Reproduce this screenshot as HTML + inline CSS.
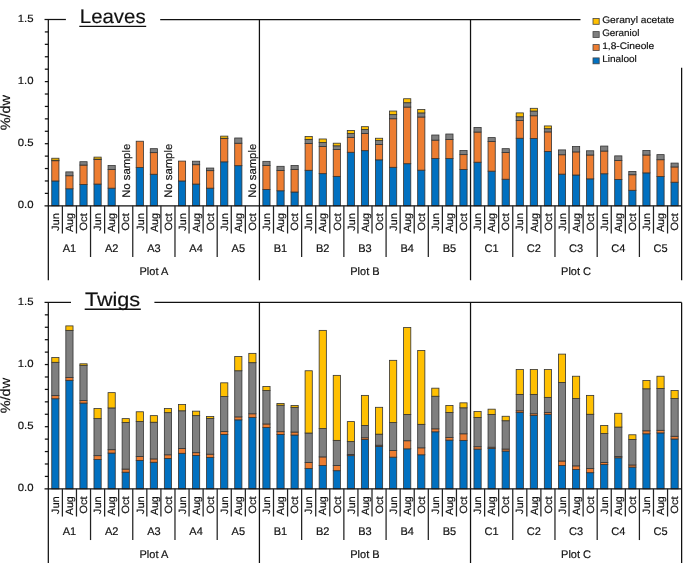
<!DOCTYPE html>
<html><head><meta charset="utf-8"><title>Leaves and Twigs</title>
<style>
html,body{margin:0;padding:0;background:#fff;}
body{width:685px;height:563px;overflow:hidden;font-family:"Liberation Sans",sans-serif;}
svg{display:block;will-change:transform;opacity:0.999;}
svg text{stroke:#111111;stroke-width:0.18px;}
</style></head><body>
<svg width="685" height="563" viewBox="0 0 685 563" font-family="'Liberation Sans', sans-serif" text-rendering="geometricPrecision" fill="#111111">
<rect x="0" y="0" width="685" height="563" fill="#ffffff"/>
<rect x="51.76" y="180.96" width="7.2" height="24.84" fill="#0070C0" stroke="#333333" stroke-width="0.8"/>
<rect x="51.76" y="160.72" width="7.2" height="20.24" fill="#ED7D31" stroke="#333333" stroke-width="0.8"/>
<rect x="51.76" y="160.22" width="7.2" height="0.5" fill="#7F7F7F" stroke="#333333" stroke-width="0.8"/>
<rect x="51.76" y="158.23" width="7.2" height="1.99" fill="#FFC000" stroke="#333333" stroke-width="0.8"/>
<rect x="65.83" y="188.78" width="7.2" height="17.02" fill="#0070C0" stroke="#333333" stroke-width="0.8"/>
<rect x="65.83" y="175.74" width="7.2" height="13.04" fill="#ED7D31" stroke="#333333" stroke-width="0.8"/>
<rect x="65.83" y="171.89" width="7.2" height="3.85" fill="#7F7F7F" stroke="#333333" stroke-width="0.8"/>
<rect x="79.9" y="184.44" width="7.2" height="21.36" fill="#0070C0" stroke="#333333" stroke-width="0.8"/>
<rect x="79.9" y="165.06" width="7.2" height="19.38" fill="#ED7D31" stroke="#333333" stroke-width="0.8"/>
<rect x="79.9" y="161.71" width="7.2" height="3.35" fill="#7F7F7F" stroke="#333333" stroke-width="0.8"/>
<rect x="93.98" y="184.06" width="7.2" height="21.74" fill="#0070C0" stroke="#333333" stroke-width="0.8"/>
<rect x="93.98" y="159.6" width="7.2" height="24.47" fill="#ED7D31" stroke="#333333" stroke-width="0.8"/>
<rect x="93.98" y="159.1" width="7.2" height="0.5" fill="#7F7F7F" stroke="#333333" stroke-width="0.8"/>
<rect x="93.98" y="157.11" width="7.2" height="1.99" fill="#FFC000" stroke="#333333" stroke-width="0.8"/>
<rect x="108.05" y="188.16" width="7.2" height="17.64" fill="#0070C0" stroke="#333333" stroke-width="0.8"/>
<rect x="108.05" y="169.41" width="7.2" height="18.75" fill="#ED7D31" stroke="#333333" stroke-width="0.8"/>
<rect x="108.05" y="165.56" width="7.2" height="3.85" fill="#7F7F7F" stroke="#333333" stroke-width="0.8"/>
<rect x="136.2" y="167.55" width="7.2" height="38.25" fill="#0070C0" stroke="#333333" stroke-width="0.8"/>
<rect x="136.2" y="141.22" width="7.2" height="26.33" fill="#ED7D31" stroke="#333333" stroke-width="0.8"/>
<rect x="150.27" y="174.25" width="7.2" height="31.55" fill="#0070C0" stroke="#333333" stroke-width="0.8"/>
<rect x="150.27" y="152.64" width="7.2" height="21.61" fill="#ED7D31" stroke="#333333" stroke-width="0.8"/>
<rect x="150.27" y="148.67" width="7.2" height="3.97" fill="#7F7F7F" stroke="#333333" stroke-width="0.8"/>
<rect x="178.42" y="180.96" width="7.2" height="24.84" fill="#0070C0" stroke="#333333" stroke-width="0.8"/>
<rect x="178.42" y="161.09" width="7.2" height="19.87" fill="#ED7D31" stroke="#333333" stroke-width="0.8"/>
<rect x="192.49" y="184.06" width="7.2" height="21.74" fill="#0070C0" stroke="#333333" stroke-width="0.8"/>
<rect x="192.49" y="164.69" width="7.2" height="19.38" fill="#ED7D31" stroke="#333333" stroke-width="0.8"/>
<rect x="192.49" y="161.21" width="7.2" height="3.48" fill="#7F7F7F" stroke="#333333" stroke-width="0.8"/>
<rect x="206.57" y="188.16" width="7.2" height="17.64" fill="#0070C0" stroke="#333333" stroke-width="0.8"/>
<rect x="206.57" y="170.65" width="7.2" height="17.51" fill="#ED7D31" stroke="#333333" stroke-width="0.8"/>
<rect x="206.57" y="168.04" width="7.2" height="2.61" fill="#7F7F7F" stroke="#333333" stroke-width="0.8"/>
<rect x="220.64" y="161.83" width="7.2" height="43.97" fill="#0070C0" stroke="#333333" stroke-width="0.8"/>
<rect x="220.64" y="138.61" width="7.2" height="23.23" fill="#ED7D31" stroke="#333333" stroke-width="0.8"/>
<rect x="220.64" y="138.24" width="7.2" height="0.37" fill="#7F7F7F" stroke="#333333" stroke-width="0.8"/>
<rect x="220.64" y="136.12" width="7.2" height="2.11" fill="#FFC000" stroke="#333333" stroke-width="0.8"/>
<rect x="234.71" y="165.68" width="7.2" height="40.12" fill="#0070C0" stroke="#333333" stroke-width="0.8"/>
<rect x="234.71" y="143.2" width="7.2" height="22.48" fill="#ED7D31" stroke="#333333" stroke-width="0.8"/>
<rect x="234.71" y="137.99" width="7.2" height="5.22" fill="#7F7F7F" stroke="#333333" stroke-width="0.8"/>
<rect x="262.86" y="189.41" width="7.2" height="16.39" fill="#0070C0" stroke="#333333" stroke-width="0.8"/>
<rect x="262.86" y="165.56" width="7.2" height="23.85" fill="#ED7D31" stroke="#333333" stroke-width="0.8"/>
<rect x="262.86" y="161.34" width="7.2" height="4.22" fill="#7F7F7F" stroke="#333333" stroke-width="0.8"/>
<rect x="276.93" y="190.77" width="7.2" height="15.03" fill="#0070C0" stroke="#333333" stroke-width="0.8"/>
<rect x="276.93" y="170.4" width="7.2" height="20.37" fill="#ED7D31" stroke="#333333" stroke-width="0.8"/>
<rect x="276.93" y="166.3" width="7.2" height="4.1" fill="#7F7F7F" stroke="#333333" stroke-width="0.8"/>
<rect x="291.01" y="192.01" width="7.2" height="13.79" fill="#0070C0" stroke="#333333" stroke-width="0.8"/>
<rect x="291.01" y="169.41" width="7.2" height="22.6" fill="#ED7D31" stroke="#333333" stroke-width="0.8"/>
<rect x="291.01" y="165.56" width="7.2" height="3.85" fill="#7F7F7F" stroke="#333333" stroke-width="0.8"/>
<rect x="305.08" y="170.28" width="7.2" height="35.52" fill="#0070C0" stroke="#333333" stroke-width="0.8"/>
<rect x="305.08" y="143.58" width="7.2" height="26.7" fill="#ED7D31" stroke="#333333" stroke-width="0.8"/>
<rect x="305.08" y="139.48" width="7.2" height="4.1" fill="#7F7F7F" stroke="#333333" stroke-width="0.8"/>
<rect x="305.08" y="136.5" width="7.2" height="2.98" fill="#FFC000" stroke="#333333" stroke-width="0.8"/>
<rect x="319.15" y="173.63" width="7.2" height="32.17" fill="#0070C0" stroke="#333333" stroke-width="0.8"/>
<rect x="319.15" y="146.56" width="7.2" height="27.08" fill="#ED7D31" stroke="#333333" stroke-width="0.8"/>
<rect x="319.15" y="142.46" width="7.2" height="4.1" fill="#7F7F7F" stroke="#333333" stroke-width="0.8"/>
<rect x="319.15" y="138.98" width="7.2" height="3.48" fill="#FFC000" stroke="#333333" stroke-width="0.8"/>
<rect x="333.23" y="176.36" width="7.2" height="29.44" fill="#0070C0" stroke="#333333" stroke-width="0.8"/>
<rect x="333.23" y="149.41" width="7.2" height="26.95" fill="#ED7D31" stroke="#333333" stroke-width="0.8"/>
<rect x="333.23" y="145.81" width="7.2" height="3.6" fill="#7F7F7F" stroke="#333333" stroke-width="0.8"/>
<rect x="333.23" y="143.2" width="7.2" height="2.61" fill="#FFC000" stroke="#333333" stroke-width="0.8"/>
<rect x="347.3" y="152.27" width="7.2" height="53.53" fill="#0070C0" stroke="#333333" stroke-width="0.8"/>
<rect x="347.3" y="137.37" width="7.2" height="14.9" fill="#ED7D31" stroke="#333333" stroke-width="0.8"/>
<rect x="347.3" y="133.52" width="7.2" height="3.85" fill="#7F7F7F" stroke="#333333" stroke-width="0.8"/>
<rect x="347.3" y="130.53" width="7.2" height="2.98" fill="#FFC000" stroke="#333333" stroke-width="0.8"/>
<rect x="361.37" y="150.66" width="7.2" height="55.14" fill="#0070C0" stroke="#333333" stroke-width="0.8"/>
<rect x="361.37" y="133.52" width="7.2" height="17.14" fill="#ED7D31" stroke="#333333" stroke-width="0.8"/>
<rect x="361.37" y="129.54" width="7.2" height="3.97" fill="#7F7F7F" stroke="#333333" stroke-width="0.8"/>
<rect x="361.37" y="126.68" width="7.2" height="2.86" fill="#FFC000" stroke="#333333" stroke-width="0.8"/>
<rect x="375.45" y="159.85" width="7.2" height="45.95" fill="#0070C0" stroke="#333333" stroke-width="0.8"/>
<rect x="375.45" y="144.45" width="7.2" height="15.4" fill="#ED7D31" stroke="#333333" stroke-width="0.8"/>
<rect x="375.45" y="140.6" width="7.2" height="3.85" fill="#7F7F7F" stroke="#333333" stroke-width="0.8"/>
<rect x="375.45" y="138.24" width="7.2" height="2.36" fill="#FFC000" stroke="#333333" stroke-width="0.8"/>
<rect x="389.52" y="167.3" width="7.2" height="38.5" fill="#0070C0" stroke="#333333" stroke-width="0.8"/>
<rect x="389.52" y="118.74" width="7.2" height="48.56" fill="#ED7D31" stroke="#333333" stroke-width="0.8"/>
<rect x="389.52" y="114.64" width="7.2" height="4.1" fill="#7F7F7F" stroke="#333333" stroke-width="0.8"/>
<rect x="389.52" y="111.04" width="7.2" height="3.6" fill="#FFC000" stroke="#333333" stroke-width="0.8"/>
<rect x="403.6" y="163.7" width="7.2" height="42.1" fill="#0070C0" stroke="#333333" stroke-width="0.8"/>
<rect x="403.6" y="107.06" width="7.2" height="56.64" fill="#ED7D31" stroke="#333333" stroke-width="0.8"/>
<rect x="403.6" y="102.71" width="7.2" height="4.35" fill="#7F7F7F" stroke="#333333" stroke-width="0.8"/>
<rect x="403.6" y="98.74" width="7.2" height="3.97" fill="#FFC000" stroke="#333333" stroke-width="0.8"/>
<rect x="417.67" y="170.15" width="7.2" height="35.65" fill="#0070C0" stroke="#333333" stroke-width="0.8"/>
<rect x="417.67" y="117" width="7.2" height="53.16" fill="#ED7D31" stroke="#333333" stroke-width="0.8"/>
<rect x="417.67" y="112.9" width="7.2" height="4.1" fill="#7F7F7F" stroke="#333333" stroke-width="0.8"/>
<rect x="417.67" y="109.55" width="7.2" height="3.35" fill="#FFC000" stroke="#333333" stroke-width="0.8"/>
<rect x="431.74" y="158.48" width="7.2" height="47.32" fill="#0070C0" stroke="#333333" stroke-width="0.8"/>
<rect x="431.74" y="140.1" width="7.2" height="18.38" fill="#ED7D31" stroke="#333333" stroke-width="0.8"/>
<rect x="431.74" y="135.01" width="7.2" height="5.09" fill="#7F7F7F" stroke="#333333" stroke-width="0.8"/>
<rect x="445.82" y="158.6" width="7.2" height="47.2" fill="#0070C0" stroke="#333333" stroke-width="0.8"/>
<rect x="445.82" y="139.48" width="7.2" height="19.13" fill="#ED7D31" stroke="#333333" stroke-width="0.8"/>
<rect x="445.82" y="134.01" width="7.2" height="5.46" fill="#7F7F7F" stroke="#333333" stroke-width="0.8"/>
<rect x="459.89" y="169.41" width="7.2" height="36.39" fill="#0070C0" stroke="#333333" stroke-width="0.8"/>
<rect x="459.89" y="154.63" width="7.2" height="14.78" fill="#ED7D31" stroke="#333333" stroke-width="0.8"/>
<rect x="459.89" y="150.53" width="7.2" height="4.1" fill="#7F7F7F" stroke="#333333" stroke-width="0.8"/>
<rect x="473.96" y="162.21" width="7.2" height="43.59" fill="#0070C0" stroke="#333333" stroke-width="0.8"/>
<rect x="473.96" y="132.03" width="7.2" height="30.18" fill="#ED7D31" stroke="#333333" stroke-width="0.8"/>
<rect x="473.96" y="127.43" width="7.2" height="4.6" fill="#7F7F7F" stroke="#333333" stroke-width="0.8"/>
<rect x="488.04" y="171.15" width="7.2" height="34.65" fill="#0070C0" stroke="#333333" stroke-width="0.8"/>
<rect x="488.04" y="141.59" width="7.2" height="29.56" fill="#ED7D31" stroke="#333333" stroke-width="0.8"/>
<rect x="488.04" y="137.61" width="7.2" height="3.97" fill="#7F7F7F" stroke="#333333" stroke-width="0.8"/>
<rect x="502.11" y="179.22" width="7.2" height="26.58" fill="#0070C0" stroke="#333333" stroke-width="0.8"/>
<rect x="502.11" y="152.52" width="7.2" height="26.7" fill="#ED7D31" stroke="#333333" stroke-width="0.8"/>
<rect x="502.11" y="148.67" width="7.2" height="3.85" fill="#7F7F7F" stroke="#333333" stroke-width="0.8"/>
<rect x="516.18" y="138.24" width="7.2" height="67.56" fill="#0070C0" stroke="#333333" stroke-width="0.8"/>
<rect x="516.18" y="120.6" width="7.2" height="17.64" fill="#ED7D31" stroke="#333333" stroke-width="0.8"/>
<rect x="516.18" y="116.75" width="7.2" height="3.85" fill="#7F7F7F" stroke="#333333" stroke-width="0.8"/>
<rect x="516.18" y="112.9" width="7.2" height="3.85" fill="#FFC000" stroke="#333333" stroke-width="0.8"/>
<rect x="530.26" y="138.48" width="7.2" height="67.32" fill="#0070C0" stroke="#333333" stroke-width="0.8"/>
<rect x="530.26" y="115.76" width="7.2" height="22.73" fill="#ED7D31" stroke="#333333" stroke-width="0.8"/>
<rect x="530.26" y="111.04" width="7.2" height="4.72" fill="#7F7F7F" stroke="#333333" stroke-width="0.8"/>
<rect x="530.26" y="108.3" width="7.2" height="2.73" fill="#FFC000" stroke="#333333" stroke-width="0.8"/>
<rect x="544.33" y="151.4" width="7.2" height="54.4" fill="#0070C0" stroke="#333333" stroke-width="0.8"/>
<rect x="544.33" y="131.9" width="7.2" height="19.5" fill="#ED7D31" stroke="#333333" stroke-width="0.8"/>
<rect x="544.33" y="128.67" width="7.2" height="3.23" fill="#7F7F7F" stroke="#333333" stroke-width="0.8"/>
<rect x="544.33" y="125.94" width="7.2" height="2.73" fill="#FFC000" stroke="#333333" stroke-width="0.8"/>
<rect x="558.4" y="174.13" width="7.2" height="31.67" fill="#0070C0" stroke="#333333" stroke-width="0.8"/>
<rect x="558.4" y="154.75" width="7.2" height="19.38" fill="#ED7D31" stroke="#333333" stroke-width="0.8"/>
<rect x="558.4" y="149.91" width="7.2" height="4.84" fill="#7F7F7F" stroke="#333333" stroke-width="0.8"/>
<rect x="572.48" y="175" width="7.2" height="30.8" fill="#0070C0" stroke="#333333" stroke-width="0.8"/>
<rect x="572.48" y="151.9" width="7.2" height="23.1" fill="#ED7D31" stroke="#333333" stroke-width="0.8"/>
<rect x="572.48" y="146.56" width="7.2" height="5.34" fill="#7F7F7F" stroke="#333333" stroke-width="0.8"/>
<rect x="586.55" y="178.85" width="7.2" height="26.95" fill="#0070C0" stroke="#333333" stroke-width="0.8"/>
<rect x="586.55" y="155" width="7.2" height="23.85" fill="#ED7D31" stroke="#333333" stroke-width="0.8"/>
<rect x="586.55" y="150.78" width="7.2" height="4.22" fill="#7F7F7F" stroke="#333333" stroke-width="0.8"/>
<rect x="600.63" y="173.76" width="7.2" height="32.04" fill="#0070C0" stroke="#333333" stroke-width="0.8"/>
<rect x="600.63" y="151.03" width="7.2" height="22.73" fill="#ED7D31" stroke="#333333" stroke-width="0.8"/>
<rect x="600.63" y="146.06" width="7.2" height="4.97" fill="#7F7F7F" stroke="#333333" stroke-width="0.8"/>
<rect x="614.7" y="179.47" width="7.2" height="26.33" fill="#0070C0" stroke="#333333" stroke-width="0.8"/>
<rect x="614.7" y="160.59" width="7.2" height="18.88" fill="#ED7D31" stroke="#333333" stroke-width="0.8"/>
<rect x="614.7" y="155.87" width="7.2" height="4.72" fill="#7F7F7F" stroke="#333333" stroke-width="0.8"/>
<rect x="628.77" y="190.28" width="7.2" height="15.53" fill="#0070C0" stroke="#333333" stroke-width="0.8"/>
<rect x="628.77" y="174.75" width="7.2" height="15.53" fill="#ED7D31" stroke="#333333" stroke-width="0.8"/>
<rect x="628.77" y="171.4" width="7.2" height="3.35" fill="#7F7F7F" stroke="#333333" stroke-width="0.8"/>
<rect x="642.85" y="172.89" width="7.2" height="32.91" fill="#0070C0" stroke="#333333" stroke-width="0.8"/>
<rect x="642.85" y="155" width="7.2" height="17.88" fill="#ED7D31" stroke="#333333" stroke-width="0.8"/>
<rect x="642.85" y="150.41" width="7.2" height="4.6" fill="#7F7F7F" stroke="#333333" stroke-width="0.8"/>
<rect x="656.92" y="176.49" width="7.2" height="29.31" fill="#0070C0" stroke="#333333" stroke-width="0.8"/>
<rect x="656.92" y="159.72" width="7.2" height="16.77" fill="#ED7D31" stroke="#333333" stroke-width="0.8"/>
<rect x="656.92" y="154.63" width="7.2" height="5.09" fill="#7F7F7F" stroke="#333333" stroke-width="0.8"/>
<rect x="670.99" y="182.2" width="7.2" height="23.6" fill="#0070C0" stroke="#333333" stroke-width="0.8"/>
<rect x="670.99" y="166.93" width="7.2" height="15.28" fill="#ED7D31" stroke="#333333" stroke-width="0.8"/>
<rect x="670.99" y="163.08" width="7.2" height="3.85" fill="#7F7F7F" stroke="#333333" stroke-width="0.8"/>
<g stroke="#111111" stroke-width="1.25" fill="none">
<path d="M48.32 19.5 V280.2"/>
<path d="M44.52 205.8 H681.63"/>
<path d="M44.52 19.5 H65.9"/>
<path d="M160.2 19.5 H580.5"/>
<path d="M44.82 193.38 H48.32"/>
<path d="M44.82 180.96 H48.32"/>
<path d="M44.82 168.54 H48.32"/>
<path d="M44.82 156.12 H48.32"/>
<path d="M44.82 143.7 H48.32"/>
<path d="M44.82 131.28 H48.32"/>
<path d="M44.82 118.86 H48.32"/>
<path d="M44.82 106.44 H48.32"/>
<path d="M44.82 94.02 H48.32"/>
<path d="M44.82 81.6 H48.32"/>
<path d="M44.82 69.18 H48.32"/>
<path d="M44.82 56.76 H48.32"/>
<path d="M44.82 44.34 H48.32"/>
<path d="M44.82 31.92 H48.32"/>
<path d="M681.63 67.7 V280.2"/>
<path d="M259.42 19.5 V280.2"/>
<path d="M470.53 19.5 V280.2"/>
</g>
<g stroke="#222222" stroke-width="1.25" fill="none">
<path d="M62.39 205.8 V233.5"/>
<path d="M76.47 205.8 V233.5"/>
<path d="M90.54 205.8 V257"/>
<path d="M104.61 205.8 V233.5"/>
<path d="M118.69 205.8 V233.5"/>
<path d="M132.76 205.8 V257"/>
<path d="M146.83 205.8 V233.5"/>
<path d="M160.91 205.8 V233.5"/>
<path d="M174.98 205.8 V257"/>
<path d="M189.06 205.8 V233.5"/>
<path d="M203.13 205.8 V233.5"/>
<path d="M217.2 205.8 V257"/>
<path d="M231.28 205.8 V233.5"/>
<path d="M245.35 205.8 V233.5"/>
<path d="M273.5 205.8 V233.5"/>
<path d="M287.57 205.8 V233.5"/>
<path d="M301.64 205.8 V257"/>
<path d="M315.72 205.8 V233.5"/>
<path d="M329.79 205.8 V233.5"/>
<path d="M343.86 205.8 V257"/>
<path d="M357.94 205.8 V233.5"/>
<path d="M372.01 205.8 V233.5"/>
<path d="M386.09 205.8 V257"/>
<path d="M400.16 205.8 V233.5"/>
<path d="M414.23 205.8 V233.5"/>
<path d="M428.31 205.8 V257"/>
<path d="M442.38 205.8 V233.5"/>
<path d="M456.45 205.8 V233.5"/>
<path d="M484.6 205.8 V233.5"/>
<path d="M498.67 205.8 V233.5"/>
<path d="M512.75 205.8 V257"/>
<path d="M526.82 205.8 V233.5"/>
<path d="M540.89 205.8 V233.5"/>
<path d="M554.97 205.8 V257"/>
<path d="M569.04 205.8 V233.5"/>
<path d="M583.12 205.8 V233.5"/>
<path d="M597.19 205.8 V257"/>
<path d="M611.26 205.8 V233.5"/>
<path d="M625.34 205.8 V233.5"/>
<path d="M639.41 205.8 V257"/>
<path d="M653.48 205.8 V233.5"/>
<path d="M667.56 205.8 V233.5"/>
</g>
<text x="33.6" y="208" font-size="10.5" text-anchor="end" textLength="15.8" lengthAdjust="spacingAndGlyphs">0.0</text>
<text x="33.6" y="145.9" font-size="10.5" text-anchor="end" textLength="15.8" lengthAdjust="spacingAndGlyphs">0.5</text>
<text x="33.6" y="83.8" font-size="10.5" text-anchor="end" textLength="15.8" lengthAdjust="spacingAndGlyphs">1.0</text>
<text x="33.6" y="21.7" font-size="10.5" text-anchor="end" textLength="15.8" lengthAdjust="spacingAndGlyphs">1.5</text>
<text transform="translate(10.4 112.65) rotate(-90)" font-size="13.5" text-anchor="middle" textLength="35.4" lengthAdjust="spacingAndGlyphs">%/dw</text>
<text transform="translate(59.06 213.2) rotate(-90)" font-size="10.5" text-anchor="end" textLength="17.9" lengthAdjust="spacingAndGlyphs">Jun</text>
<text transform="translate(73.13 213.2) rotate(-90)" font-size="10.5" text-anchor="end" textLength="18.9" lengthAdjust="spacingAndGlyphs">Aug</text>
<text transform="translate(87.2 213.2) rotate(-90)" font-size="10.5" text-anchor="end" textLength="17.5" lengthAdjust="spacingAndGlyphs">Oct</text>
<text transform="translate(101.28 213.2) rotate(-90)" font-size="10.5" text-anchor="end" textLength="17.9" lengthAdjust="spacingAndGlyphs">Jun</text>
<text transform="translate(115.35 213.2) rotate(-90)" font-size="10.5" text-anchor="end" textLength="18.9" lengthAdjust="spacingAndGlyphs">Aug</text>
<text transform="translate(129.42 213.2) rotate(-90)" font-size="10.5" text-anchor="end" textLength="17.5" lengthAdjust="spacingAndGlyphs">Oct</text>
<text transform="translate(143.5 213.2) rotate(-90)" font-size="10.5" text-anchor="end" textLength="17.9" lengthAdjust="spacingAndGlyphs">Jun</text>
<text transform="translate(157.57 213.2) rotate(-90)" font-size="10.5" text-anchor="end" textLength="18.9" lengthAdjust="spacingAndGlyphs">Aug</text>
<text transform="translate(171.65 213.2) rotate(-90)" font-size="10.5" text-anchor="end" textLength="17.5" lengthAdjust="spacingAndGlyphs">Oct</text>
<text transform="translate(185.72 213.2) rotate(-90)" font-size="10.5" text-anchor="end" textLength="17.9" lengthAdjust="spacingAndGlyphs">Jun</text>
<text transform="translate(199.79 213.2) rotate(-90)" font-size="10.5" text-anchor="end" textLength="18.9" lengthAdjust="spacingAndGlyphs">Aug</text>
<text transform="translate(213.87 213.2) rotate(-90)" font-size="10.5" text-anchor="end" textLength="17.5" lengthAdjust="spacingAndGlyphs">Oct</text>
<text transform="translate(227.94 213.2) rotate(-90)" font-size="10.5" text-anchor="end" textLength="17.9" lengthAdjust="spacingAndGlyphs">Jun</text>
<text transform="translate(242.01 213.2) rotate(-90)" font-size="10.5" text-anchor="end" textLength="18.9" lengthAdjust="spacingAndGlyphs">Aug</text>
<text transform="translate(256.09 213.2) rotate(-90)" font-size="10.5" text-anchor="end" textLength="17.5" lengthAdjust="spacingAndGlyphs">Oct</text>
<text transform="translate(270.16 213.2) rotate(-90)" font-size="10.5" text-anchor="end" textLength="17.9" lengthAdjust="spacingAndGlyphs">Jun</text>
<text transform="translate(284.23 213.2) rotate(-90)" font-size="10.5" text-anchor="end" textLength="18.9" lengthAdjust="spacingAndGlyphs">Aug</text>
<text transform="translate(298.31 213.2) rotate(-90)" font-size="10.5" text-anchor="end" textLength="17.5" lengthAdjust="spacingAndGlyphs">Oct</text>
<text transform="translate(312.38 213.2) rotate(-90)" font-size="10.5" text-anchor="end" textLength="17.9" lengthAdjust="spacingAndGlyphs">Jun</text>
<text transform="translate(326.45 213.2) rotate(-90)" font-size="10.5" text-anchor="end" textLength="18.9" lengthAdjust="spacingAndGlyphs">Aug</text>
<text transform="translate(340.53 213.2) rotate(-90)" font-size="10.5" text-anchor="end" textLength="17.5" lengthAdjust="spacingAndGlyphs">Oct</text>
<text transform="translate(354.6 213.2) rotate(-90)" font-size="10.5" text-anchor="end" textLength="17.9" lengthAdjust="spacingAndGlyphs">Jun</text>
<text transform="translate(368.67 213.2) rotate(-90)" font-size="10.5" text-anchor="end" textLength="18.9" lengthAdjust="spacingAndGlyphs">Aug</text>
<text transform="translate(382.75 213.2) rotate(-90)" font-size="10.5" text-anchor="end" textLength="17.5" lengthAdjust="spacingAndGlyphs">Oct</text>
<text transform="translate(396.82 213.2) rotate(-90)" font-size="10.5" text-anchor="end" textLength="17.9" lengthAdjust="spacingAndGlyphs">Jun</text>
<text transform="translate(410.9 213.2) rotate(-90)" font-size="10.5" text-anchor="end" textLength="18.9" lengthAdjust="spacingAndGlyphs">Aug</text>
<text transform="translate(424.97 213.2) rotate(-90)" font-size="10.5" text-anchor="end" textLength="17.5" lengthAdjust="spacingAndGlyphs">Oct</text>
<text transform="translate(439.04 213.2) rotate(-90)" font-size="10.5" text-anchor="end" textLength="17.9" lengthAdjust="spacingAndGlyphs">Jun</text>
<text transform="translate(453.12 213.2) rotate(-90)" font-size="10.5" text-anchor="end" textLength="18.9" lengthAdjust="spacingAndGlyphs">Aug</text>
<text transform="translate(467.19 213.2) rotate(-90)" font-size="10.5" text-anchor="end" textLength="17.5" lengthAdjust="spacingAndGlyphs">Oct</text>
<text transform="translate(481.26 213.2) rotate(-90)" font-size="10.5" text-anchor="end" textLength="17.9" lengthAdjust="spacingAndGlyphs">Jun</text>
<text transform="translate(495.34 213.2) rotate(-90)" font-size="10.5" text-anchor="end" textLength="18.9" lengthAdjust="spacingAndGlyphs">Aug</text>
<text transform="translate(509.41 213.2) rotate(-90)" font-size="10.5" text-anchor="end" textLength="17.5" lengthAdjust="spacingAndGlyphs">Oct</text>
<text transform="translate(523.48 213.2) rotate(-90)" font-size="10.5" text-anchor="end" textLength="17.9" lengthAdjust="spacingAndGlyphs">Jun</text>
<text transform="translate(537.56 213.2) rotate(-90)" font-size="10.5" text-anchor="end" textLength="18.9" lengthAdjust="spacingAndGlyphs">Aug</text>
<text transform="translate(551.63 213.2) rotate(-90)" font-size="10.5" text-anchor="end" textLength="17.5" lengthAdjust="spacingAndGlyphs">Oct</text>
<text transform="translate(565.7 213.2) rotate(-90)" font-size="10.5" text-anchor="end" textLength="17.9" lengthAdjust="spacingAndGlyphs">Jun</text>
<text transform="translate(579.78 213.2) rotate(-90)" font-size="10.5" text-anchor="end" textLength="18.9" lengthAdjust="spacingAndGlyphs">Aug</text>
<text transform="translate(593.85 213.2) rotate(-90)" font-size="10.5" text-anchor="end" textLength="17.5" lengthAdjust="spacingAndGlyphs">Oct</text>
<text transform="translate(607.93 213.2) rotate(-90)" font-size="10.5" text-anchor="end" textLength="17.9" lengthAdjust="spacingAndGlyphs">Jun</text>
<text transform="translate(622 213.2) rotate(-90)" font-size="10.5" text-anchor="end" textLength="18.9" lengthAdjust="spacingAndGlyphs">Aug</text>
<text transform="translate(636.07 213.2) rotate(-90)" font-size="10.5" text-anchor="end" textLength="17.5" lengthAdjust="spacingAndGlyphs">Oct</text>
<text transform="translate(650.15 213.2) rotate(-90)" font-size="10.5" text-anchor="end" textLength="17.9" lengthAdjust="spacingAndGlyphs">Jun</text>
<text transform="translate(664.22 213.2) rotate(-90)" font-size="10.5" text-anchor="end" textLength="18.9" lengthAdjust="spacingAndGlyphs">Aug</text>
<text transform="translate(678.29 213.2) rotate(-90)" font-size="10.5" text-anchor="end" textLength="17.5" lengthAdjust="spacingAndGlyphs">Oct</text>
<text x="69.43" y="251.8" font-size="11" text-anchor="middle">A1</text>
<text x="111.65" y="251.8" font-size="11" text-anchor="middle">A2</text>
<text x="153.87" y="251.8" font-size="11" text-anchor="middle">A3</text>
<text x="196.09" y="251.8" font-size="11" text-anchor="middle">A4</text>
<text x="238.31" y="251.8" font-size="11" text-anchor="middle">A5</text>
<text x="280.53" y="251.8" font-size="11" text-anchor="middle">B1</text>
<text x="322.75" y="251.8" font-size="11" text-anchor="middle">B2</text>
<text x="364.97" y="251.8" font-size="11" text-anchor="middle">B3</text>
<text x="407.2" y="251.8" font-size="11" text-anchor="middle">B4</text>
<text x="449.42" y="251.8" font-size="11" text-anchor="middle">B5</text>
<text x="491.64" y="251.8" font-size="11" text-anchor="middle">C1</text>
<text x="533.86" y="251.8" font-size="11" text-anchor="middle">C2</text>
<text x="576.08" y="251.8" font-size="11" text-anchor="middle">C3</text>
<text x="618.3" y="251.8" font-size="11" text-anchor="middle">C4</text>
<text x="660.52" y="251.8" font-size="11" text-anchor="middle">C5</text>
<text x="153.87" y="275.2" font-size="11" text-anchor="middle">Plot A</text>
<text x="364.97" y="275.2" font-size="11" text-anchor="middle">Plot B</text>
<text x="576.08" y="275.2" font-size="11" text-anchor="middle">Plot C</text>
<text x="79.8" y="23.4" font-size="19.5" textLength="65.8" lengthAdjust="spacingAndGlyphs">Leaves</text>
<path d="M79.3 26.35 H146.2" stroke="#111111" stroke-width="1.3"/>
<text transform="translate(129.52 197.8) rotate(-90)" font-size="11" textLength="54" lengthAdjust="spacingAndGlyphs">No sample</text>
<text transform="translate(171.75 197.8) rotate(-90)" font-size="11" textLength="54" lengthAdjust="spacingAndGlyphs">No sample</text>
<text transform="translate(256.19 197.8) rotate(-90)" font-size="11" textLength="54" lengthAdjust="spacingAndGlyphs">No sample</text>
<rect x="51.76" y="398.73" width="7.2" height="90.12" fill="#0070C0" stroke="#333333" stroke-width="0.8"/>
<rect x="51.76" y="395.62" width="7.2" height="3.11" fill="#ED7D31" stroke="#333333" stroke-width="0.8"/>
<rect x="51.76" y="362.31" width="7.2" height="33.31" fill="#7F7F7F" stroke="#333333" stroke-width="0.8"/>
<rect x="51.76" y="357.59" width="7.2" height="4.72" fill="#FFC000" stroke="#333333" stroke-width="0.8"/>
<rect x="65.83" y="380.34" width="7.2" height="108.51" fill="#0070C0" stroke="#333333" stroke-width="0.8"/>
<rect x="65.83" y="377.6" width="7.2" height="2.73" fill="#ED7D31" stroke="#333333" stroke-width="0.8"/>
<rect x="65.83" y="330.37" width="7.2" height="47.23" fill="#7F7F7F" stroke="#333333" stroke-width="0.8"/>
<rect x="65.83" y="325.89" width="7.2" height="4.47" fill="#FFC000" stroke="#333333" stroke-width="0.8"/>
<rect x="79.9" y="403.08" width="7.2" height="85.77" fill="#0070C0" stroke="#333333" stroke-width="0.8"/>
<rect x="79.9" y="400.6" width="7.2" height="2.49" fill="#ED7D31" stroke="#333333" stroke-width="0.8"/>
<rect x="79.9" y="365.3" width="7.2" height="35.3" fill="#7F7F7F" stroke="#333333" stroke-width="0.8"/>
<rect x="79.9" y="363.8" width="7.2" height="1.49" fill="#FFC000" stroke="#333333" stroke-width="0.8"/>
<rect x="93.98" y="459.52" width="7.2" height="29.33" fill="#0070C0" stroke="#333333" stroke-width="0.8"/>
<rect x="93.98" y="455.66" width="7.2" height="3.85" fill="#ED7D31" stroke="#333333" stroke-width="0.8"/>
<rect x="93.98" y="418.62" width="7.2" height="37.04" fill="#7F7F7F" stroke="#333333" stroke-width="0.8"/>
<rect x="93.98" y="408.55" width="7.2" height="10.07" fill="#FFC000" stroke="#333333" stroke-width="0.8"/>
<rect x="108.05" y="453.05" width="7.2" height="35.8" fill="#0070C0" stroke="#333333" stroke-width="0.8"/>
<rect x="108.05" y="449.7" width="7.2" height="3.36" fill="#ED7D31" stroke="#333333" stroke-width="0.8"/>
<rect x="108.05" y="407.93" width="7.2" height="41.76" fill="#7F7F7F" stroke="#333333" stroke-width="0.8"/>
<rect x="108.05" y="392.64" width="7.2" height="15.29" fill="#FFC000" stroke="#333333" stroke-width="0.8"/>
<rect x="122.12" y="472.19" width="7.2" height="16.66" fill="#0070C0" stroke="#333333" stroke-width="0.8"/>
<rect x="122.12" y="469.09" width="7.2" height="3.11" fill="#ED7D31" stroke="#333333" stroke-width="0.8"/>
<rect x="122.12" y="422.47" width="7.2" height="46.61" fill="#7F7F7F" stroke="#333333" stroke-width="0.8"/>
<rect x="122.12" y="418.62" width="7.2" height="3.85" fill="#FFC000" stroke="#333333" stroke-width="0.8"/>
<rect x="136.2" y="460.39" width="7.2" height="28.46" fill="#0070C0" stroke="#333333" stroke-width="0.8"/>
<rect x="136.2" y="456.53" width="7.2" height="3.85" fill="#ED7D31" stroke="#333333" stroke-width="0.8"/>
<rect x="136.2" y="421.6" width="7.2" height="34.93" fill="#7F7F7F" stroke="#333333" stroke-width="0.8"/>
<rect x="136.2" y="411.78" width="7.2" height="9.82" fill="#FFC000" stroke="#333333" stroke-width="0.8"/>
<rect x="150.27" y="462.25" width="7.2" height="26.6" fill="#0070C0" stroke="#333333" stroke-width="0.8"/>
<rect x="150.27" y="458.89" width="7.2" height="3.36" fill="#ED7D31" stroke="#333333" stroke-width="0.8"/>
<rect x="150.27" y="422.23" width="7.2" height="36.67" fill="#7F7F7F" stroke="#333333" stroke-width="0.8"/>
<rect x="150.27" y="415.64" width="7.2" height="6.59" fill="#FFC000" stroke="#333333" stroke-width="0.8"/>
<rect x="164.35" y="458.4" width="7.2" height="30.45" fill="#0070C0" stroke="#333333" stroke-width="0.8"/>
<rect x="164.35" y="454.79" width="7.2" height="3.6" fill="#ED7D31" stroke="#333333" stroke-width="0.8"/>
<rect x="164.35" y="412.65" width="7.2" height="42.14" fill="#7F7F7F" stroke="#333333" stroke-width="0.8"/>
<rect x="164.35" y="408.55" width="7.2" height="4.1" fill="#FFC000" stroke="#333333" stroke-width="0.8"/>
<rect x="178.42" y="453.3" width="7.2" height="35.55" fill="#0070C0" stroke="#333333" stroke-width="0.8"/>
<rect x="178.42" y="448.58" width="7.2" height="4.72" fill="#ED7D31" stroke="#333333" stroke-width="0.8"/>
<rect x="178.42" y="410.79" width="7.2" height="37.79" fill="#7F7F7F" stroke="#333333" stroke-width="0.8"/>
<rect x="178.42" y="404.57" width="7.2" height="6.21" fill="#FFC000" stroke="#333333" stroke-width="0.8"/>
<rect x="192.49" y="455.41" width="7.2" height="33.44" fill="#0070C0" stroke="#333333" stroke-width="0.8"/>
<rect x="192.49" y="452.68" width="7.2" height="2.73" fill="#ED7D31" stroke="#333333" stroke-width="0.8"/>
<rect x="192.49" y="415.64" width="7.2" height="37.04" fill="#7F7F7F" stroke="#333333" stroke-width="0.8"/>
<rect x="192.49" y="411.16" width="7.2" height="4.47" fill="#FFC000" stroke="#333333" stroke-width="0.8"/>
<rect x="206.57" y="457.53" width="7.2" height="31.32" fill="#0070C0" stroke="#333333" stroke-width="0.8"/>
<rect x="206.57" y="454.17" width="7.2" height="3.36" fill="#ED7D31" stroke="#333333" stroke-width="0.8"/>
<rect x="206.57" y="418.37" width="7.2" height="35.8" fill="#7F7F7F" stroke="#333333" stroke-width="0.8"/>
<rect x="206.57" y="416.51" width="7.2" height="1.86" fill="#FFC000" stroke="#333333" stroke-width="0.8"/>
<rect x="220.64" y="434.41" width="7.2" height="54.44" fill="#0070C0" stroke="#333333" stroke-width="0.8"/>
<rect x="220.64" y="431.55" width="7.2" height="2.86" fill="#ED7D31" stroke="#333333" stroke-width="0.8"/>
<rect x="220.64" y="396.5" width="7.2" height="35.05" fill="#7F7F7F" stroke="#333333" stroke-width="0.8"/>
<rect x="220.64" y="382.82" width="7.2" height="13.67" fill="#FFC000" stroke="#333333" stroke-width="0.8"/>
<rect x="234.71" y="419.86" width="7.2" height="68.99" fill="#0070C0" stroke="#333333" stroke-width="0.8"/>
<rect x="234.71" y="416.88" width="7.2" height="2.98" fill="#ED7D31" stroke="#333333" stroke-width="0.8"/>
<rect x="234.71" y="370.76" width="7.2" height="46.12" fill="#7F7F7F" stroke="#333333" stroke-width="0.8"/>
<rect x="234.71" y="356.47" width="7.2" height="14.29" fill="#FFC000" stroke="#333333" stroke-width="0.8"/>
<rect x="248.79" y="417.38" width="7.2" height="71.47" fill="#0070C0" stroke="#333333" stroke-width="0.8"/>
<rect x="248.79" y="413.77" width="7.2" height="3.6" fill="#ED7D31" stroke="#333333" stroke-width="0.8"/>
<rect x="248.79" y="362.69" width="7.2" height="51.09" fill="#7F7F7F" stroke="#333333" stroke-width="0.8"/>
<rect x="248.79" y="353.36" width="7.2" height="9.32" fill="#FFC000" stroke="#333333" stroke-width="0.8"/>
<rect x="262.86" y="427.57" width="7.2" height="61.28" fill="#0070C0" stroke="#333333" stroke-width="0.8"/>
<rect x="262.86" y="423.97" width="7.2" height="3.6" fill="#ED7D31" stroke="#333333" stroke-width="0.8"/>
<rect x="262.86" y="390.53" width="7.2" height="33.44" fill="#7F7F7F" stroke="#333333" stroke-width="0.8"/>
<rect x="262.86" y="386.43" width="7.2" height="4.1" fill="#FFC000" stroke="#333333" stroke-width="0.8"/>
<rect x="276.93" y="434.41" width="7.2" height="54.44" fill="#0070C0" stroke="#333333" stroke-width="0.8"/>
<rect x="276.93" y="431.67" width="7.2" height="2.73" fill="#ED7D31" stroke="#333333" stroke-width="0.8"/>
<rect x="276.93" y="405.2" width="7.2" height="26.48" fill="#7F7F7F" stroke="#333333" stroke-width="0.8"/>
<rect x="276.93" y="403.46" width="7.2" height="1.74" fill="#FFC000" stroke="#333333" stroke-width="0.8"/>
<rect x="291.01" y="435.03" width="7.2" height="53.82" fill="#0070C0" stroke="#333333" stroke-width="0.8"/>
<rect x="291.01" y="432.04" width="7.2" height="2.98" fill="#ED7D31" stroke="#333333" stroke-width="0.8"/>
<rect x="291.01" y="407.31" width="7.2" height="24.74" fill="#7F7F7F" stroke="#333333" stroke-width="0.8"/>
<rect x="291.01" y="405.44" width="7.2" height="1.86" fill="#FFC000" stroke="#333333" stroke-width="0.8"/>
<rect x="305.08" y="468.46" width="7.2" height="20.39" fill="#0070C0" stroke="#333333" stroke-width="0.8"/>
<rect x="305.08" y="462.5" width="7.2" height="5.97" fill="#ED7D31" stroke="#333333" stroke-width="0.8"/>
<rect x="305.08" y="433.04" width="7.2" height="29.46" fill="#7F7F7F" stroke="#333333" stroke-width="0.8"/>
<rect x="305.08" y="370.76" width="7.2" height="62.27" fill="#FFC000" stroke="#333333" stroke-width="0.8"/>
<rect x="319.15" y="465.48" width="7.2" height="23.37" fill="#0070C0" stroke="#333333" stroke-width="0.8"/>
<rect x="319.15" y="456.9" width="7.2" height="8.58" fill="#ED7D31" stroke="#333333" stroke-width="0.8"/>
<rect x="319.15" y="428.56" width="7.2" height="28.34" fill="#7F7F7F" stroke="#333333" stroke-width="0.8"/>
<rect x="319.15" y="330.37" width="7.2" height="98.2" fill="#FFC000" stroke="#333333" stroke-width="0.8"/>
<rect x="333.23" y="470.7" width="7.2" height="18.15" fill="#0070C0" stroke="#333333" stroke-width="0.8"/>
<rect x="333.23" y="465.48" width="7.2" height="5.22" fill="#ED7D31" stroke="#333333" stroke-width="0.8"/>
<rect x="333.23" y="440.37" width="7.2" height="25.11" fill="#7F7F7F" stroke="#333333" stroke-width="0.8"/>
<rect x="333.23" y="375.36" width="7.2" height="65.01" fill="#FFC000" stroke="#333333" stroke-width="0.8"/>
<rect x="347.3" y="455.66" width="7.2" height="33.19" fill="#0070C0" stroke="#333333" stroke-width="0.8"/>
<rect x="347.3" y="454.42" width="7.2" height="1.24" fill="#ED7D31" stroke="#333333" stroke-width="0.8"/>
<rect x="347.3" y="441.62" width="7.2" height="12.8" fill="#7F7F7F" stroke="#333333" stroke-width="0.8"/>
<rect x="347.3" y="421.6" width="7.2" height="20.01" fill="#FFC000" stroke="#333333" stroke-width="0.8"/>
<rect x="361.37" y="439.5" width="7.2" height="49.35" fill="#0070C0" stroke="#333333" stroke-width="0.8"/>
<rect x="361.37" y="437.76" width="7.2" height="1.74" fill="#ED7D31" stroke="#333333" stroke-width="0.8"/>
<rect x="361.37" y="425.46" width="7.2" height="12.31" fill="#7F7F7F" stroke="#333333" stroke-width="0.8"/>
<rect x="361.37" y="395.38" width="7.2" height="30.08" fill="#FFC000" stroke="#333333" stroke-width="0.8"/>
<rect x="375.45" y="446.46" width="7.2" height="42.39" fill="#0070C0" stroke="#333333" stroke-width="0.8"/>
<rect x="375.45" y="445.22" width="7.2" height="1.24" fill="#ED7D31" stroke="#333333" stroke-width="0.8"/>
<rect x="375.45" y="434.16" width="7.2" height="11.06" fill="#7F7F7F" stroke="#333333" stroke-width="0.8"/>
<rect x="375.45" y="407.31" width="7.2" height="26.85" fill="#FFC000" stroke="#333333" stroke-width="0.8"/>
<rect x="389.52" y="457.15" width="7.2" height="31.7" fill="#0070C0" stroke="#333333" stroke-width="0.8"/>
<rect x="389.52" y="450.57" width="7.2" height="6.59" fill="#ED7D31" stroke="#333333" stroke-width="0.8"/>
<rect x="389.52" y="422.6" width="7.2" height="27.97" fill="#7F7F7F" stroke="#333333" stroke-width="0.8"/>
<rect x="389.52" y="360.32" width="7.2" height="62.27" fill="#FFC000" stroke="#333333" stroke-width="0.8"/>
<rect x="403.6" y="448.83" width="7.2" height="40.02" fill="#0070C0" stroke="#333333" stroke-width="0.8"/>
<rect x="403.6" y="440.75" width="7.2" height="8.08" fill="#ED7D31" stroke="#333333" stroke-width="0.8"/>
<rect x="403.6" y="414.39" width="7.2" height="26.35" fill="#7F7F7F" stroke="#333333" stroke-width="0.8"/>
<rect x="403.6" y="327.51" width="7.2" height="86.89" fill="#FFC000" stroke="#333333" stroke-width="0.8"/>
<rect x="417.67" y="454.79" width="7.2" height="34.06" fill="#0070C0" stroke="#333333" stroke-width="0.8"/>
<rect x="417.67" y="447.83" width="7.2" height="6.96" fill="#ED7D31" stroke="#333333" stroke-width="0.8"/>
<rect x="417.67" y="424.34" width="7.2" height="23.49" fill="#7F7F7F" stroke="#333333" stroke-width="0.8"/>
<rect x="417.67" y="350.5" width="7.2" height="73.83" fill="#FFC000" stroke="#333333" stroke-width="0.8"/>
<rect x="431.74" y="431.8" width="7.2" height="57.05" fill="#0070C0" stroke="#333333" stroke-width="0.8"/>
<rect x="431.74" y="428.81" width="7.2" height="2.98" fill="#ED7D31" stroke="#333333" stroke-width="0.8"/>
<rect x="431.74" y="396.25" width="7.2" height="32.57" fill="#7F7F7F" stroke="#333333" stroke-width="0.8"/>
<rect x="431.74" y="388.17" width="7.2" height="8.08" fill="#FFC000" stroke="#333333" stroke-width="0.8"/>
<rect x="445.82" y="440.12" width="7.2" height="48.73" fill="#0070C0" stroke="#333333" stroke-width="0.8"/>
<rect x="445.82" y="437.51" width="7.2" height="2.61" fill="#ED7D31" stroke="#333333" stroke-width="0.8"/>
<rect x="445.82" y="412.41" width="7.2" height="25.11" fill="#7F7F7F" stroke="#333333" stroke-width="0.8"/>
<rect x="445.82" y="405.57" width="7.2" height="6.84" fill="#FFC000" stroke="#333333" stroke-width="0.8"/>
<rect x="459.89" y="440.37" width="7.2" height="48.48" fill="#0070C0" stroke="#333333" stroke-width="0.8"/>
<rect x="459.89" y="433.79" width="7.2" height="6.59" fill="#ED7D31" stroke="#333333" stroke-width="0.8"/>
<rect x="459.89" y="407.81" width="7.2" height="25.98" fill="#7F7F7F" stroke="#333333" stroke-width="0.8"/>
<rect x="459.89" y="402.83" width="7.2" height="4.97" fill="#FFC000" stroke="#333333" stroke-width="0.8"/>
<rect x="473.96" y="449.07" width="7.2" height="39.78" fill="#0070C0" stroke="#333333" stroke-width="0.8"/>
<rect x="473.96" y="446.71" width="7.2" height="2.36" fill="#ED7D31" stroke="#333333" stroke-width="0.8"/>
<rect x="473.96" y="417.5" width="7.2" height="29.21" fill="#7F7F7F" stroke="#333333" stroke-width="0.8"/>
<rect x="473.96" y="411.54" width="7.2" height="5.97" fill="#FFC000" stroke="#333333" stroke-width="0.8"/>
<rect x="488.04" y="448.58" width="7.2" height="40.27" fill="#0070C0" stroke="#333333" stroke-width="0.8"/>
<rect x="488.04" y="447.21" width="7.2" height="1.37" fill="#ED7D31" stroke="#333333" stroke-width="0.8"/>
<rect x="488.04" y="414.39" width="7.2" height="32.82" fill="#7F7F7F" stroke="#333333" stroke-width="0.8"/>
<rect x="488.04" y="409.17" width="7.2" height="5.22" fill="#FFC000" stroke="#333333" stroke-width="0.8"/>
<rect x="502.11" y="451.06" width="7.2" height="37.79" fill="#0070C0" stroke="#333333" stroke-width="0.8"/>
<rect x="502.11" y="449.07" width="7.2" height="1.99" fill="#ED7D31" stroke="#333333" stroke-width="0.8"/>
<rect x="502.11" y="420.73" width="7.2" height="28.34" fill="#7F7F7F" stroke="#333333" stroke-width="0.8"/>
<rect x="502.11" y="416.26" width="7.2" height="4.47" fill="#FFC000" stroke="#333333" stroke-width="0.8"/>
<rect x="516.18" y="412.53" width="7.2" height="76.32" fill="#0070C0" stroke="#333333" stroke-width="0.8"/>
<rect x="516.18" y="410.79" width="7.2" height="1.74" fill="#ED7D31" stroke="#333333" stroke-width="0.8"/>
<rect x="516.18" y="394.38" width="7.2" height="16.41" fill="#7F7F7F" stroke="#333333" stroke-width="0.8"/>
<rect x="516.18" y="369.52" width="7.2" height="24.86" fill="#FFC000" stroke="#333333" stroke-width="0.8"/>
<rect x="530.26" y="415.51" width="7.2" height="73.34" fill="#0070C0" stroke="#333333" stroke-width="0.8"/>
<rect x="530.26" y="413.77" width="7.2" height="1.74" fill="#ED7D31" stroke="#333333" stroke-width="0.8"/>
<rect x="530.26" y="394.38" width="7.2" height="19.39" fill="#7F7F7F" stroke="#333333" stroke-width="0.8"/>
<rect x="530.26" y="369.52" width="7.2" height="24.86" fill="#FFC000" stroke="#333333" stroke-width="0.8"/>
<rect x="544.33" y="414.27" width="7.2" height="74.58" fill="#0070C0" stroke="#333333" stroke-width="0.8"/>
<rect x="544.33" y="412.53" width="7.2" height="1.74" fill="#ED7D31" stroke="#333333" stroke-width="0.8"/>
<rect x="544.33" y="397.37" width="7.2" height="15.16" fill="#7F7F7F" stroke="#333333" stroke-width="0.8"/>
<rect x="544.33" y="369.52" width="7.2" height="27.84" fill="#FFC000" stroke="#333333" stroke-width="0.8"/>
<rect x="558.4" y="465.48" width="7.2" height="23.37" fill="#0070C0" stroke="#333333" stroke-width="0.8"/>
<rect x="558.4" y="461.01" width="7.2" height="4.47" fill="#ED7D31" stroke="#333333" stroke-width="0.8"/>
<rect x="558.4" y="382.45" width="7.2" height="78.56" fill="#7F7F7F" stroke="#333333" stroke-width="0.8"/>
<rect x="558.4" y="354.11" width="7.2" height="28.34" fill="#FFC000" stroke="#333333" stroke-width="0.8"/>
<rect x="572.48" y="469.46" width="7.2" height="19.39" fill="#0070C0" stroke="#333333" stroke-width="0.8"/>
<rect x="572.48" y="465.85" width="7.2" height="3.6" fill="#ED7D31" stroke="#333333" stroke-width="0.8"/>
<rect x="572.48" y="398.48" width="7.2" height="67.37" fill="#7F7F7F" stroke="#333333" stroke-width="0.8"/>
<rect x="572.48" y="376.23" width="7.2" height="22.25" fill="#FFC000" stroke="#333333" stroke-width="0.8"/>
<rect x="586.55" y="472.69" width="7.2" height="16.16" fill="#0070C0" stroke="#333333" stroke-width="0.8"/>
<rect x="586.55" y="468.59" width="7.2" height="4.1" fill="#ED7D31" stroke="#333333" stroke-width="0.8"/>
<rect x="586.55" y="414.27" width="7.2" height="54.32" fill="#7F7F7F" stroke="#333333" stroke-width="0.8"/>
<rect x="586.55" y="395.38" width="7.2" height="18.89" fill="#FFC000" stroke="#333333" stroke-width="0.8"/>
<rect x="600.63" y="464.61" width="7.2" height="24.24" fill="#0070C0" stroke="#333333" stroke-width="0.8"/>
<rect x="600.63" y="462.5" width="7.2" height="2.11" fill="#ED7D31" stroke="#333333" stroke-width="0.8"/>
<rect x="600.63" y="433.54" width="7.2" height="28.96" fill="#7F7F7F" stroke="#333333" stroke-width="0.8"/>
<rect x="600.63" y="425.46" width="7.2" height="8.08" fill="#FFC000" stroke="#333333" stroke-width="0.8"/>
<rect x="614.7" y="457.78" width="7.2" height="31.07" fill="#0070C0" stroke="#333333" stroke-width="0.8"/>
<rect x="614.7" y="456.53" width="7.2" height="1.24" fill="#ED7D31" stroke="#333333" stroke-width="0.8"/>
<rect x="614.7" y="427.07" width="7.2" height="29.46" fill="#7F7F7F" stroke="#333333" stroke-width="0.8"/>
<rect x="614.7" y="413.28" width="7.2" height="13.8" fill="#FFC000" stroke="#333333" stroke-width="0.8"/>
<rect x="628.77" y="467.1" width="7.2" height="21.75" fill="#0070C0" stroke="#333333" stroke-width="0.8"/>
<rect x="628.77" y="464.98" width="7.2" height="2.11" fill="#ED7D31" stroke="#333333" stroke-width="0.8"/>
<rect x="628.77" y="439.5" width="7.2" height="25.48" fill="#7F7F7F" stroke="#333333" stroke-width="0.8"/>
<rect x="628.77" y="434.78" width="7.2" height="4.72" fill="#FFC000" stroke="#333333" stroke-width="0.8"/>
<rect x="642.85" y="433.79" width="7.2" height="55.06" fill="#0070C0" stroke="#333333" stroke-width="0.8"/>
<rect x="642.85" y="430.8" width="7.2" height="2.98" fill="#ED7D31" stroke="#333333" stroke-width="0.8"/>
<rect x="642.85" y="388.79" width="7.2" height="42.01" fill="#7F7F7F" stroke="#333333" stroke-width="0.8"/>
<rect x="642.85" y="380.46" width="7.2" height="8.33" fill="#FFC000" stroke="#333333" stroke-width="0.8"/>
<rect x="656.92" y="432.92" width="7.2" height="55.94" fill="#0070C0" stroke="#333333" stroke-width="0.8"/>
<rect x="656.92" y="430.3" width="7.2" height="2.61" fill="#ED7D31" stroke="#333333" stroke-width="0.8"/>
<rect x="656.92" y="388.42" width="7.2" height="41.89" fill="#7F7F7F" stroke="#333333" stroke-width="0.8"/>
<rect x="656.92" y="376.23" width="7.2" height="12.18" fill="#FFC000" stroke="#333333" stroke-width="0.8"/>
<rect x="670.99" y="439.01" width="7.2" height="49.84" fill="#0070C0" stroke="#333333" stroke-width="0.8"/>
<rect x="670.99" y="436.27" width="7.2" height="2.73" fill="#ED7D31" stroke="#333333" stroke-width="0.8"/>
<rect x="670.99" y="398.61" width="7.2" height="37.66" fill="#7F7F7F" stroke="#333333" stroke-width="0.8"/>
<rect x="670.99" y="390.53" width="7.2" height="8.08" fill="#FFC000" stroke="#333333" stroke-width="0.8"/>
<g stroke="#111111" stroke-width="1.25" fill="none">
<path d="M48.32 302.4 V563.25"/>
<path d="M44.52 488.85 H681.63"/>
<path d="M44.52 302.4 H71"/>
<path d="M154.4 302.4 H681.63"/>
<path d="M44.82 476.42 H48.32"/>
<path d="M44.82 463.99 H48.32"/>
<path d="M44.82 451.56 H48.32"/>
<path d="M44.82 439.13 H48.32"/>
<path d="M44.82 426.7 H48.32"/>
<path d="M44.82 414.27 H48.32"/>
<path d="M44.82 401.84 H48.32"/>
<path d="M44.82 389.41 H48.32"/>
<path d="M44.82 376.98 H48.32"/>
<path d="M44.82 364.55 H48.32"/>
<path d="M44.82 352.12 H48.32"/>
<path d="M44.82 339.69 H48.32"/>
<path d="M44.82 327.26 H48.32"/>
<path d="M44.82 314.83 H48.32"/>
<path d="M681.63 302.4 V563.25"/>
<path d="M259.42 302.4 V563.25"/>
<path d="M470.53 302.4 V563.25"/>
</g>
<g stroke="#222222" stroke-width="1.25" fill="none">
<path d="M62.39 488.85 V516.55"/>
<path d="M76.47 488.85 V516.55"/>
<path d="M90.54 488.85 V540.05"/>
<path d="M104.61 488.85 V516.55"/>
<path d="M118.69 488.85 V516.55"/>
<path d="M132.76 488.85 V540.05"/>
<path d="M146.83 488.85 V516.55"/>
<path d="M160.91 488.85 V516.55"/>
<path d="M174.98 488.85 V540.05"/>
<path d="M189.06 488.85 V516.55"/>
<path d="M203.13 488.85 V516.55"/>
<path d="M217.2 488.85 V540.05"/>
<path d="M231.28 488.85 V516.55"/>
<path d="M245.35 488.85 V516.55"/>
<path d="M273.5 488.85 V516.55"/>
<path d="M287.57 488.85 V516.55"/>
<path d="M301.64 488.85 V540.05"/>
<path d="M315.72 488.85 V516.55"/>
<path d="M329.79 488.85 V516.55"/>
<path d="M343.86 488.85 V540.05"/>
<path d="M357.94 488.85 V516.55"/>
<path d="M372.01 488.85 V516.55"/>
<path d="M386.09 488.85 V540.05"/>
<path d="M400.16 488.85 V516.55"/>
<path d="M414.23 488.85 V516.55"/>
<path d="M428.31 488.85 V540.05"/>
<path d="M442.38 488.85 V516.55"/>
<path d="M456.45 488.85 V516.55"/>
<path d="M484.6 488.85 V516.55"/>
<path d="M498.67 488.85 V516.55"/>
<path d="M512.75 488.85 V540.05"/>
<path d="M526.82 488.85 V516.55"/>
<path d="M540.89 488.85 V516.55"/>
<path d="M554.97 488.85 V540.05"/>
<path d="M569.04 488.85 V516.55"/>
<path d="M583.12 488.85 V516.55"/>
<path d="M597.19 488.85 V540.05"/>
<path d="M611.26 488.85 V516.55"/>
<path d="M625.34 488.85 V516.55"/>
<path d="M639.41 488.85 V540.05"/>
<path d="M653.48 488.85 V516.55"/>
<path d="M667.56 488.85 V516.55"/>
</g>
<text x="33.6" y="491.05" font-size="10.5" text-anchor="end" textLength="15.8" lengthAdjust="spacingAndGlyphs">0.0</text>
<text x="33.6" y="428.9" font-size="10.5" text-anchor="end" textLength="15.8" lengthAdjust="spacingAndGlyphs">0.5</text>
<text x="33.6" y="366.75" font-size="10.5" text-anchor="end" textLength="15.8" lengthAdjust="spacingAndGlyphs">1.0</text>
<text x="33.6" y="304.6" font-size="10.5" text-anchor="end" textLength="15.8" lengthAdjust="spacingAndGlyphs">1.5</text>
<text transform="translate(10.4 395.62) rotate(-90)" font-size="13.5" text-anchor="middle" textLength="35.4" lengthAdjust="spacingAndGlyphs">%/dw</text>
<text transform="translate(59.06 496.25) rotate(-90)" font-size="10.5" text-anchor="end" textLength="17.9" lengthAdjust="spacingAndGlyphs">Jun</text>
<text transform="translate(73.13 496.25) rotate(-90)" font-size="10.5" text-anchor="end" textLength="18.9" lengthAdjust="spacingAndGlyphs">Aug</text>
<text transform="translate(87.2 496.25) rotate(-90)" font-size="10.5" text-anchor="end" textLength="17.5" lengthAdjust="spacingAndGlyphs">Oct</text>
<text transform="translate(101.28 496.25) rotate(-90)" font-size="10.5" text-anchor="end" textLength="17.9" lengthAdjust="spacingAndGlyphs">Jun</text>
<text transform="translate(115.35 496.25) rotate(-90)" font-size="10.5" text-anchor="end" textLength="18.9" lengthAdjust="spacingAndGlyphs">Aug</text>
<text transform="translate(129.42 496.25) rotate(-90)" font-size="10.5" text-anchor="end" textLength="17.5" lengthAdjust="spacingAndGlyphs">Oct</text>
<text transform="translate(143.5 496.25) rotate(-90)" font-size="10.5" text-anchor="end" textLength="17.9" lengthAdjust="spacingAndGlyphs">Jun</text>
<text transform="translate(157.57 496.25) rotate(-90)" font-size="10.5" text-anchor="end" textLength="18.9" lengthAdjust="spacingAndGlyphs">Aug</text>
<text transform="translate(171.65 496.25) rotate(-90)" font-size="10.5" text-anchor="end" textLength="17.5" lengthAdjust="spacingAndGlyphs">Oct</text>
<text transform="translate(185.72 496.25) rotate(-90)" font-size="10.5" text-anchor="end" textLength="17.9" lengthAdjust="spacingAndGlyphs">Jun</text>
<text transform="translate(199.79 496.25) rotate(-90)" font-size="10.5" text-anchor="end" textLength="18.9" lengthAdjust="spacingAndGlyphs">Aug</text>
<text transform="translate(213.87 496.25) rotate(-90)" font-size="10.5" text-anchor="end" textLength="17.5" lengthAdjust="spacingAndGlyphs">Oct</text>
<text transform="translate(227.94 496.25) rotate(-90)" font-size="10.5" text-anchor="end" textLength="17.9" lengthAdjust="spacingAndGlyphs">Jun</text>
<text transform="translate(242.01 496.25) rotate(-90)" font-size="10.5" text-anchor="end" textLength="18.9" lengthAdjust="spacingAndGlyphs">Aug</text>
<text transform="translate(256.09 496.25) rotate(-90)" font-size="10.5" text-anchor="end" textLength="17.5" lengthAdjust="spacingAndGlyphs">Oct</text>
<text transform="translate(270.16 496.25) rotate(-90)" font-size="10.5" text-anchor="end" textLength="17.9" lengthAdjust="spacingAndGlyphs">Jun</text>
<text transform="translate(284.23 496.25) rotate(-90)" font-size="10.5" text-anchor="end" textLength="18.9" lengthAdjust="spacingAndGlyphs">Aug</text>
<text transform="translate(298.31 496.25) rotate(-90)" font-size="10.5" text-anchor="end" textLength="17.5" lengthAdjust="spacingAndGlyphs">Oct</text>
<text transform="translate(312.38 496.25) rotate(-90)" font-size="10.5" text-anchor="end" textLength="17.9" lengthAdjust="spacingAndGlyphs">Jun</text>
<text transform="translate(326.45 496.25) rotate(-90)" font-size="10.5" text-anchor="end" textLength="18.9" lengthAdjust="spacingAndGlyphs">Aug</text>
<text transform="translate(340.53 496.25) rotate(-90)" font-size="10.5" text-anchor="end" textLength="17.5" lengthAdjust="spacingAndGlyphs">Oct</text>
<text transform="translate(354.6 496.25) rotate(-90)" font-size="10.5" text-anchor="end" textLength="17.9" lengthAdjust="spacingAndGlyphs">Jun</text>
<text transform="translate(368.67 496.25) rotate(-90)" font-size="10.5" text-anchor="end" textLength="18.9" lengthAdjust="spacingAndGlyphs">Aug</text>
<text transform="translate(382.75 496.25) rotate(-90)" font-size="10.5" text-anchor="end" textLength="17.5" lengthAdjust="spacingAndGlyphs">Oct</text>
<text transform="translate(396.82 496.25) rotate(-90)" font-size="10.5" text-anchor="end" textLength="17.9" lengthAdjust="spacingAndGlyphs">Jun</text>
<text transform="translate(410.9 496.25) rotate(-90)" font-size="10.5" text-anchor="end" textLength="18.9" lengthAdjust="spacingAndGlyphs">Aug</text>
<text transform="translate(424.97 496.25) rotate(-90)" font-size="10.5" text-anchor="end" textLength="17.5" lengthAdjust="spacingAndGlyphs">Oct</text>
<text transform="translate(439.04 496.25) rotate(-90)" font-size="10.5" text-anchor="end" textLength="17.9" lengthAdjust="spacingAndGlyphs">Jun</text>
<text transform="translate(453.12 496.25) rotate(-90)" font-size="10.5" text-anchor="end" textLength="18.9" lengthAdjust="spacingAndGlyphs">Aug</text>
<text transform="translate(467.19 496.25) rotate(-90)" font-size="10.5" text-anchor="end" textLength="17.5" lengthAdjust="spacingAndGlyphs">Oct</text>
<text transform="translate(481.26 496.25) rotate(-90)" font-size="10.5" text-anchor="end" textLength="17.9" lengthAdjust="spacingAndGlyphs">Jun</text>
<text transform="translate(495.34 496.25) rotate(-90)" font-size="10.5" text-anchor="end" textLength="18.9" lengthAdjust="spacingAndGlyphs">Aug</text>
<text transform="translate(509.41 496.25) rotate(-90)" font-size="10.5" text-anchor="end" textLength="17.5" lengthAdjust="spacingAndGlyphs">Oct</text>
<text transform="translate(523.48 496.25) rotate(-90)" font-size="10.5" text-anchor="end" textLength="17.9" lengthAdjust="spacingAndGlyphs">Jun</text>
<text transform="translate(537.56 496.25) rotate(-90)" font-size="10.5" text-anchor="end" textLength="18.9" lengthAdjust="spacingAndGlyphs">Aug</text>
<text transform="translate(551.63 496.25) rotate(-90)" font-size="10.5" text-anchor="end" textLength="17.5" lengthAdjust="spacingAndGlyphs">Oct</text>
<text transform="translate(565.7 496.25) rotate(-90)" font-size="10.5" text-anchor="end" textLength="17.9" lengthAdjust="spacingAndGlyphs">Jun</text>
<text transform="translate(579.78 496.25) rotate(-90)" font-size="10.5" text-anchor="end" textLength="18.9" lengthAdjust="spacingAndGlyphs">Aug</text>
<text transform="translate(593.85 496.25) rotate(-90)" font-size="10.5" text-anchor="end" textLength="17.5" lengthAdjust="spacingAndGlyphs">Oct</text>
<text transform="translate(607.93 496.25) rotate(-90)" font-size="10.5" text-anchor="end" textLength="17.9" lengthAdjust="spacingAndGlyphs">Jun</text>
<text transform="translate(622 496.25) rotate(-90)" font-size="10.5" text-anchor="end" textLength="18.9" lengthAdjust="spacingAndGlyphs">Aug</text>
<text transform="translate(636.07 496.25) rotate(-90)" font-size="10.5" text-anchor="end" textLength="17.5" lengthAdjust="spacingAndGlyphs">Oct</text>
<text transform="translate(650.15 496.25) rotate(-90)" font-size="10.5" text-anchor="end" textLength="17.9" lengthAdjust="spacingAndGlyphs">Jun</text>
<text transform="translate(664.22 496.25) rotate(-90)" font-size="10.5" text-anchor="end" textLength="18.9" lengthAdjust="spacingAndGlyphs">Aug</text>
<text transform="translate(678.29 496.25) rotate(-90)" font-size="10.5" text-anchor="end" textLength="17.5" lengthAdjust="spacingAndGlyphs">Oct</text>
<text x="69.43" y="534.85" font-size="11" text-anchor="middle">A1</text>
<text x="111.65" y="534.85" font-size="11" text-anchor="middle">A2</text>
<text x="153.87" y="534.85" font-size="11" text-anchor="middle">A3</text>
<text x="196.09" y="534.85" font-size="11" text-anchor="middle">A4</text>
<text x="238.31" y="534.85" font-size="11" text-anchor="middle">A5</text>
<text x="280.53" y="534.85" font-size="11" text-anchor="middle">B1</text>
<text x="322.75" y="534.85" font-size="11" text-anchor="middle">B2</text>
<text x="364.97" y="534.85" font-size="11" text-anchor="middle">B3</text>
<text x="407.2" y="534.85" font-size="11" text-anchor="middle">B4</text>
<text x="449.42" y="534.85" font-size="11" text-anchor="middle">B5</text>
<text x="491.64" y="534.85" font-size="11" text-anchor="middle">C1</text>
<text x="533.86" y="534.85" font-size="11" text-anchor="middle">C2</text>
<text x="576.08" y="534.85" font-size="11" text-anchor="middle">C3</text>
<text x="618.3" y="534.85" font-size="11" text-anchor="middle">C4</text>
<text x="660.52" y="534.85" font-size="11" text-anchor="middle">C5</text>
<text x="153.87" y="558.25" font-size="11" text-anchor="middle">Plot A</text>
<text x="364.97" y="558.25" font-size="11" text-anchor="middle">Plot B</text>
<text x="576.08" y="558.25" font-size="11" text-anchor="middle">Plot C</text>
<text x="84.9" y="306.3" font-size="19.5" textLength="55.3" lengthAdjust="spacingAndGlyphs">Twigs</text>
<path d="M84.7 309.25 H140.8" stroke="#111111" stroke-width="1.3"/>
<rect x="593" y="18.4" width="6.2" height="5.9" fill="#FFC000" stroke="#444" stroke-width="0.8"/>
<text x="602.2" y="22.85" font-size="9.5" textLength="72" lengthAdjust="spacingAndGlyphs">Geranyl acetate</text>
<rect x="593" y="31.6" width="6.2" height="5.9" fill="#7F7F7F" stroke="#444" stroke-width="0.8"/>
<text x="602.2" y="36.05" font-size="9.5" textLength="37.2" lengthAdjust="spacingAndGlyphs">Geraniol</text>
<rect x="593" y="44.6" width="6.2" height="5.9" fill="#ED7D31" stroke="#444" stroke-width="0.8"/>
<text x="602.2" y="49.05" font-size="9.5" textLength="52.1" lengthAdjust="spacingAndGlyphs">1,8-Cineole</text>
<rect x="593" y="57.9" width="6.2" height="5.9" fill="#0070C0" stroke="#444" stroke-width="0.8"/>
<text x="602.2" y="62.35" font-size="9.5" textLength="34.6" lengthAdjust="spacingAndGlyphs">Linalool</text>
</svg>
</body></html>
